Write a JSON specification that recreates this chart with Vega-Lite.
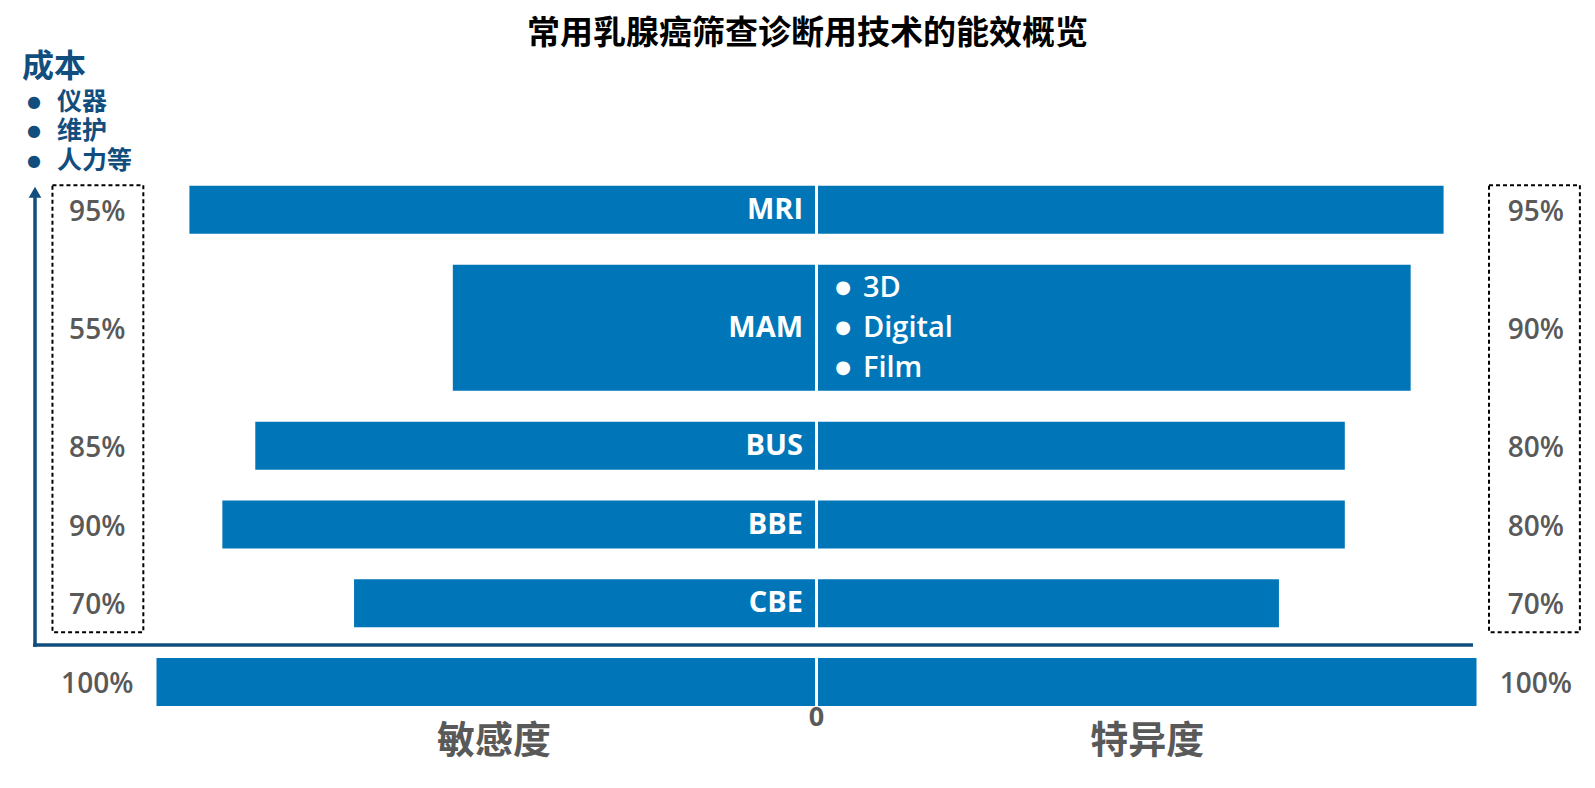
{
  "$schema": "https://vega.github.io/schema/vega-lite/v6.json",
  "width": 1595,
  "height": 788,
  "autosize": {"type": "fit", "contains": "padding"},
  "padding": {"top": 18, "left": 0, "right": 0, "bottom": 0},
  "title": {
    "text": "常用乳腺癌筛查诊断用技术的能效概览",
    "font": "Noto Sans CJK SC",
    "fontSize": 33,
    "fontWeight": "bold",
    "color": "#000000",
    "anchor": "middle",
    "offset": 0,
    "dx": 10
  },
  "config": {"view": {"stroke": null}},
  "data": {
    "values": [
      {"技术": "MRI", "行": 0, "跨行": 1, "敏感度": 0.95, "特异度": 0.95},
      {"技术": "MAM", "行": 1.5, "跨行": 2, "敏感度": 0.55, "特异度": 0.90, "亚型": ["3D", "Digital", "Film"]},
      {"技术": "BUS", "行": 3, "跨行": 1, "敏感度": 0.85, "特异度": 0.80},
      {"技术": "BBE", "行": 4, "跨行": 1, "敏感度": 0.90, "特异度": 0.80},
      {"技术": "CBE", "行": 5, "跨行": 1, "敏感度": 0.70, "特异度": 0.70},
      {"技术": "基准", "行": 6, "跨行": 1, "敏感度": 1.00, "特异度": 1.00}
    ]
  },
  "resolve": {"scale": {"x": "independent"}},
  "layer": [
    {
      "layer": [
        {
          "mark": {"type": "bar", "color": "#0076b9"},
          "encoding": {
            "x": {"field": "敏感度", "type": "quantitative", "scale": {"domain": [-1.18451, 1.23766], "reverse": true, "nice": false, "zero": false}, "axis": null},
            "x2": {"datum": 0},
            "y": {"field": "行", "type": "quantitative", "scale": {"domain": [-1.9392, 7.2836], "reverse": true, "nice": false, "zero": false}, "axis": null},
            "size": {"field": "跨行", "type": "quantitative", "scale": {"domain": [1, 2], "range": [48, 126], "zero": false}, "legend": null}
          }
        },
        {
          "transform": [{"filter": "datum['技术'] != '基准'"}],
          "mark": {"type": "text", "align": "right", "baseline": "middle", "dx": -12, "font": "Open Sans", "fontSize": 29, "fontWeight": "bold", "color": "#ffffff"},
          "encoding": {
            "x": {"datum": 0, "type": "quantitative", "scale": {"domain": [-1.18451, 1.23766], "reverse": true, "nice": false, "zero": false}, "axis": null},
            "y": {"field": "行", "type": "quantitative", "scale": {"domain": [-1.9392, 7.2836], "reverse": true, "nice": false, "zero": false}, "axis": null},
            "text": {"field": "技术"}
          }
        },
        {
          "mark": {"type": "text", "align": "center", "baseline": "middle", "dy": 3, "font": "Open Sans", "fontSize": 28, "fontWeight": 600, "color": "#595959"},
          "encoding": {
            "x": {"datum": 1.09, "type": "quantitative", "scale": {"domain": [-1.18451, 1.23766], "reverse": true, "nice": false, "zero": false}, "axis": null},
            "y": {"field": "行", "type": "quantitative", "scale": {"domain": [-1.9392, 7.2836], "reverse": true, "nice": false, "zero": false}, "axis": null},
            "text": {"field": "敏感度", "type": "quantitative", "format": ".0%"}
          }
        },
        {
          "data": {"values": [{}]},
          "mark": {"type": "rect", "filled": false, "stroke": "#000000", "strokeWidth": 2, "strokeDash": [4, 3]},
          "encoding": {
            "x": {"datum": 1.158, "type": "quantitative", "scale": {"domain": [-1.18451, 1.23766], "reverse": true, "nice": false, "zero": false}, "axis": null},
            "x2": {"datum": 1.02},
            "y": {"datum": -0.31, "type": "quantitative", "scale": {"domain": [-1.9392, 7.2836], "reverse": true, "nice": false, "zero": false}, "axis": null},
            "y2": {"datum": 5.367}
          }
        },
        {
          "data": {"values": [{}]},
          "mark": {"type": "rule", "color": "#114e7e", "strokeWidth": 3.5},
          "encoding": {
            "x": {"datum": 1.1845, "type": "quantitative", "scale": {"domain": [-1.18451, 1.23766], "reverse": true, "nice": false, "zero": false}, "axis": null},
            "y": {"datum": -0.25, "type": "quantitative", "scale": {"domain": [-1.9392, 7.2836], "reverse": true, "nice": false, "zero": false}, "axis": null},
            "y2": {"datum": 5.553}
          }
        },
        {
          "data": {"values": [{}]},
          "mark": {"type": "rule", "color": "#114e7e", "strokeWidth": 3.5},
          "encoding": {
            "x": {"datum": 1.1875, "type": "quantitative", "scale": {"domain": [-1.18451, 1.23766], "reverse": true, "nice": false, "zero": false}, "axis": null},
            "x2": {"datum": -0.9992},
            "y": {"datum": 5.532, "type": "quantitative", "scale": {"domain": [-1.9392, 7.2836], "reverse": true, "nice": false, "zero": false}, "axis": null}
          }
        },
        {
          "data": {"values": [{}]},
          "mark": {"type": "point", "shape": "triangle-up", "filled": true, "size": 160, "color": "#114e7e", "opacity": 1},
          "encoding": {
            "x": {"datum": 1.1845, "type": "quantitative", "scale": {"domain": [-1.18451, 1.23766], "reverse": true, "nice": false, "zero": false}, "axis": null},
            "y": {"datum": -0.2215, "type": "quantitative", "scale": {"domain": [-1.9392, 7.2836], "reverse": true, "nice": false, "zero": false}, "axis": null}
          }
        },
        {
          "data": {"values": [{}]},
          "mark": {"type": "text", "text": "成本", "align": "left", "baseline": "middle", "font": "Noto Sans CJK SC", "fontSize": 32, "fontWeight": "bold", "color": "#114e7e"},
          "encoding": {
            "x": {"datum": 1.2042, "type": "quantitative", "scale": {"domain": [-1.18451, 1.23766], "reverse": true, "nice": false, "zero": false}, "axis": null},
            "y": {"datum": -1.8165, "type": "quantitative", "scale": {"domain": [-1.9392, 7.2836], "reverse": true, "nice": false, "zero": false}, "axis": null}
          }
        },
        {
          "data": {"values": [{}]},
          "mark": {"type": "text", "text": ["●", "●", "●"], "align": "center", "baseline": "middle", "lineHeight": 29.5, "font": "DejaVu Sans", "fontSize": 16, "color": "#114e7e"},
          "encoding": {
            "x": {"datum": 1.186, "type": "quantitative", "scale": {"domain": [-1.18451, 1.23766], "reverse": true, "nice": false, "zero": false}, "axis": null},
            "y": {"datum": -1.3734, "type": "quantitative", "scale": {"domain": [-1.9392, 7.2836], "reverse": true, "nice": false, "zero": false}, "axis": null}
          }
        },
        {
          "data": {"values": [{}]},
          "mark": {"type": "text", "text": ["仪器", "维护", "人力等"], "align": "left", "baseline": "middle", "lineHeight": 29.5, "font": "Noto Sans CJK SC", "fontSize": 25, "fontWeight": "bold", "color": "#114e7e"},
          "encoding": {
            "x": {"datum": 1.1511, "type": "quantitative", "scale": {"domain": [-1.18451, 1.23766], "reverse": true, "nice": false, "zero": false}, "axis": null},
            "y": {"datum": -1.3734, "type": "quantitative", "scale": {"domain": [-1.9392, 7.2836], "reverse": true, "nice": false, "zero": false}, "axis": null}
          }
        },
        {
          "data": {"values": [{}]},
          "mark": {"type": "text", "text": "0", "align": "center", "baseline": "middle", "dx": 1.5, "font": "Open Sans", "fontSize": 27, "fontWeight": "bold", "color": "#595959"},
          "encoding": {
            "x": {"datum": 0, "type": "quantitative", "scale": {"domain": [-1.18451, 1.23766], "reverse": true, "nice": false, "zero": false}, "axis": null},
            "y": {"datum": 6.456, "type": "quantitative", "scale": {"domain": [-1.9392, 7.2836], "reverse": true, "nice": false, "zero": false}, "axis": null}
          }
        },
        {
          "data": {"values": [{}]},
          "mark": {"type": "text", "text": "敏感度", "align": "center", "baseline": "middle", "font": "Noto Sans CJK SC", "fontSize": 38, "fontWeight": "bold", "color": "#595959"},
          "encoding": {
            "x": {"datum": 0.4875, "type": "quantitative", "scale": {"domain": [-1.18451, 1.23766], "reverse": true, "nice": false, "zero": false}, "axis": null},
            "y": {"datum": 6.76, "type": "quantitative", "scale": {"domain": [-1.9392, 7.2836], "reverse": true, "nice": false, "zero": false}, "axis": null}
          }
        }
      ]
    },
    {
      "layer": [
        {
          "mark": {"type": "bar", "color": "#0076b9"},
          "encoding": {
            "x": {"field": "特异度", "type": "quantitative", "scale": {"domain": [-1.24222, 1.17995], "nice": false, "zero": false}, "axis": null},
            "x2": {"datum": 0},
            "y": {"field": "行", "type": "quantitative", "scale": {"domain": [-1.9392, 7.2836], "reverse": true, "nice": false, "zero": false}, "axis": null},
            "size": {"field": "跨行", "type": "quantitative", "scale": {"domain": [1, 2], "range": [48, 126], "zero": false}, "legend": null}
          }
        },
        {
          "mark": {"type": "text", "align": "center", "baseline": "middle", "dy": 3, "font": "Open Sans", "fontSize": 28, "fontWeight": 600, "color": "#595959"},
          "encoding": {
            "x": {"datum": 1.09, "type": "quantitative", "scale": {"domain": [-1.24222, 1.17995], "nice": false, "zero": false}, "axis": null},
            "y": {"field": "行", "type": "quantitative", "scale": {"domain": [-1.9392, 7.2836], "reverse": true, "nice": false, "zero": false}, "axis": null},
            "text": {"field": "特异度", "type": "quantitative", "format": ".0%"}
          }
        },
        {
          "data": {"values": [{}]},
          "mark": {"type": "rect", "filled": false, "stroke": "#000000", "strokeWidth": 2, "strokeDash": [4, 3]},
          "encoding": {
            "x": {"datum": 1.019, "type": "quantitative", "scale": {"domain": [-1.24222, 1.17995], "nice": false, "zero": false}, "axis": null},
            "x2": {"datum": 1.157},
            "y": {"datum": -0.31, "type": "quantitative", "scale": {"domain": [-1.9392, 7.2836], "reverse": true, "nice": false, "zero": false}, "axis": null},
            "y2": {"datum": 5.367}
          }
        },
        {
          "transform": [{"filter": "isValid(datum['亚型'])"}],
          "mark": {"type": "text", "text": ["●", "●", "●"], "align": "center", "baseline": "middle", "dy": -40, "lineHeight": 40, "font": "DejaVu Sans", "fontSize": 18, "color": "#ffffff"},
          "encoding": {
            "x": {"datum": 0.038, "type": "quantitative", "scale": {"domain": [-1.24222, 1.17995], "nice": false, "zero": false}, "axis": null},
            "y": {"field": "行", "type": "quantitative", "scale": {"domain": [-1.9392, 7.2836], "reverse": true, "nice": false, "zero": false}, "axis": null}
          }
        },
        {
          "transform": [{"filter": "isValid(datum['亚型'])"}],
          "mark": {"type": "text", "align": "left", "baseline": "middle", "dy": -40, "lineHeight": 40, "font": "Open Sans", "fontSize": 29, "fontWeight": 600, "color": "#ffffff"},
          "encoding": {
            "x": {"datum": 0.0683, "type": "quantitative", "scale": {"domain": [-1.24222, 1.17995], "nice": false, "zero": false}, "axis": null},
            "y": {"field": "行", "type": "quantitative", "scale": {"domain": [-1.9392, 7.2836], "reverse": true, "nice": false, "zero": false}, "axis": null},
            "text": {"field": "亚型"}
          }
        },
        {
          "data": {"values": [{}]},
          "mark": {"type": "text", "text": "特异度", "align": "center", "baseline": "middle", "font": "Noto Sans CJK SC", "fontSize": 38, "fontWeight": "bold", "color": "#595959"},
          "encoding": {
            "x": {"datum": 0.5, "type": "quantitative", "scale": {"domain": [-1.24222, 1.17995], "nice": false, "zero": false}, "axis": null},
            "y": {"datum": 6.76, "type": "quantitative", "scale": {"domain": [-1.9392, 7.2836], "reverse": true, "nice": false, "zero": false}, "axis": null}
          }
        }
      ]
    }
  ]
}
